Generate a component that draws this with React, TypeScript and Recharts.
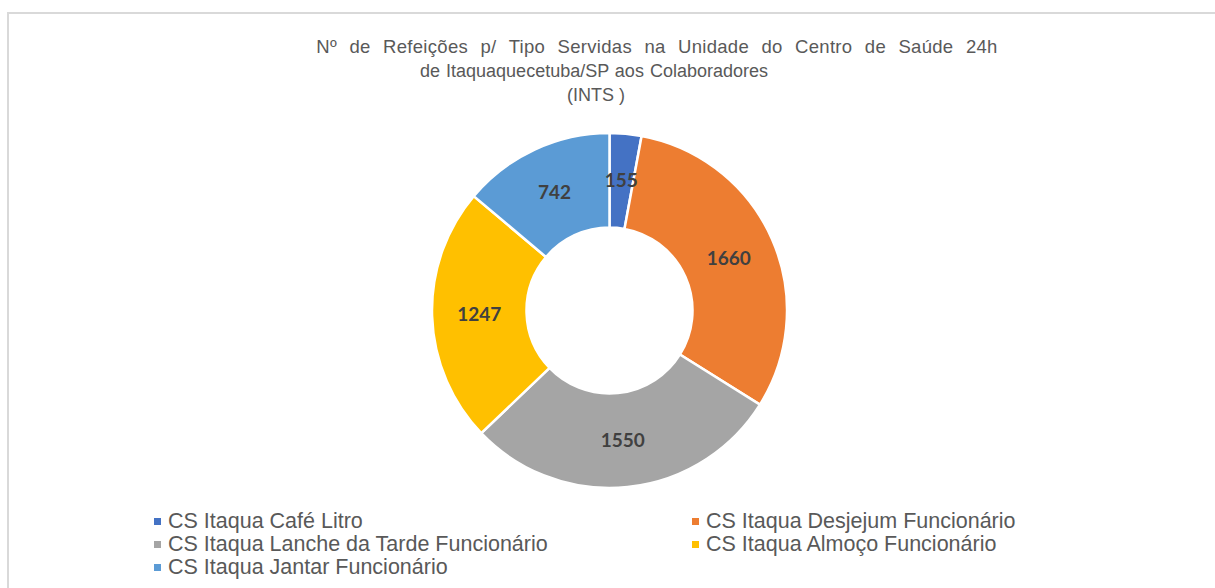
import { PieChart, Pie, Cell, Legend } from 'recharts';

const CATEGORIES = [
  'CS Itaqua Café Litro',
  'CS Itaqua Desjejum Funcionário',
  'CS Itaqua Lanche da Tarde Funcionário',
  'CS Itaqua Almoço Funcionário',
  'CS Itaqua Jantar Funcionário',
];
const MEALS = [155, 1660, 1550, 1247, 742];
const COLORS = ['#4472C4', '#ED7D31', '#A5A5A5', '#FFC000', '#5B9BD5'];
const TITLE_LINES = [
  'Nº de Refeições p/ Tipo Servidas na Unidade do Centro de Saúde 24h',
  'de Itaquaquecetuba/SP aos Colaboradores',
  '(INTS )',
];

const data = CATEGORIES.map((name, i) => ({ name, value: MEALS[i] }));

const RAD = Math.PI / 180;
const FONT = 'Arial, "Liberation Sans", sans-serif';

function renderLabel(props: any) {
  const { cx, cy, midAngle, innerRadius, outerRadius, value } = props;
  const r = (innerRadius + outerRadius) / 2;
  const x = cx + r * Math.cos(-midAngle * RAD);
  const y = cy + r * Math.sin(-midAngle * RAD);
  return (
    <text
      x={x}
      y={y - 1}
      fill="#404040"
      textAnchor="middle"
      dominantBaseline="central"
      fontFamily="Lato, sans-serif"
      fontWeight={700}
      fontSize={19}
    >
      {value}
    </text>
  );
}

function LegendContent(props: any) {
  const items = [...(props.payload || [])].sort(
    (a: any, b: any) => CATEGORIES.indexOf(a.value) - CATEGORIES.indexOf(b.value)
  );
  return (
    <div style={{ position: 'relative', width: 1215, height: 80 }}>
      {items.map((entry: any, i: number) => {
        const col = i % 2;
        const row = Math.floor(i / 2);
        return (
          <div
            key={i}
            style={{
              position: 'absolute',
              left: col === 0 ? 154 : 692,
              top: 2 + row * 23,
              display: 'flex',
              alignItems: 'center',
              height: 23,
              whiteSpace: 'nowrap',
            }}
          >
            <span style={{ width: 7, height: 7, background: entry.color, marginRight: 7 }} />
            <span style={{ fontFamily: FONT, fontSize: 21.5, color: '#595959' }}>
              {entry.value}
            </span>
          </div>
        );
      })}
    </div>
  );
}

export default function App() {
  return (
    <div style={{ position: 'absolute', left: 0, top: 0, width: 1215, height: 588, overflow: 'hidden', background: '#fff' }}>
      <div
        style={{
          position: 'absolute',
          left: 7,
          top: 12,
          width: 1230,
          height: 620,
          border: '2px solid #d9d9d9',
        }}
      />
      <svg width={1215} height={110} style={{ position: 'absolute', left: 0, top: 0 }}>
        <text x={657} y={53} textAnchor="middle" fontFamily={FONT} fontSize={18.5} fill="#595959" letterSpacing={0.3} wordSpacing={7}>
          {TITLE_LINES[0]}
        </text>
        <text x={594} y={77} textAnchor="middle" fontFamily={FONT} fontSize={18} fill="#595959" wordSpacing={1}>
          {TITLE_LINES[1]}
        </text>
        <text x={596} y={101} textAnchor="middle" fontFamily={FONT} fontSize={18} fill="#595959">
          {TITLE_LINES[2]}
        </text>
      </svg>
      <div style={{ position: 'absolute', left: 0, top: 0 }}>
        <PieChart width={1215} height={588} margin={{ top: 0, right: 0, bottom: 0, left: 0 }}>
          <Pie
            data={data}
            dataKey="value"
            nameKey="name"
            cx={609.5}
            cy={310.5}
            innerRadius={83}
            outerRadius={177.5}
            startAngle={90}
            endAngle={-270}
            stroke="#ffffff"
            strokeWidth={2.5}
            label={renderLabel}
            labelLine={false}
            isAnimationActive={false}
          >
            {data.map((_, i) => (
              <Cell key={i} fill={COLORS[i]} />
            ))}
          </Pie>
          <Legend
            content={<LegendContent />}
            wrapperStyle={{ position: 'absolute', left: 0, top: 508, width: 1215 }}
          />
        </PieChart>
      </div>
    </div>
  );
}
